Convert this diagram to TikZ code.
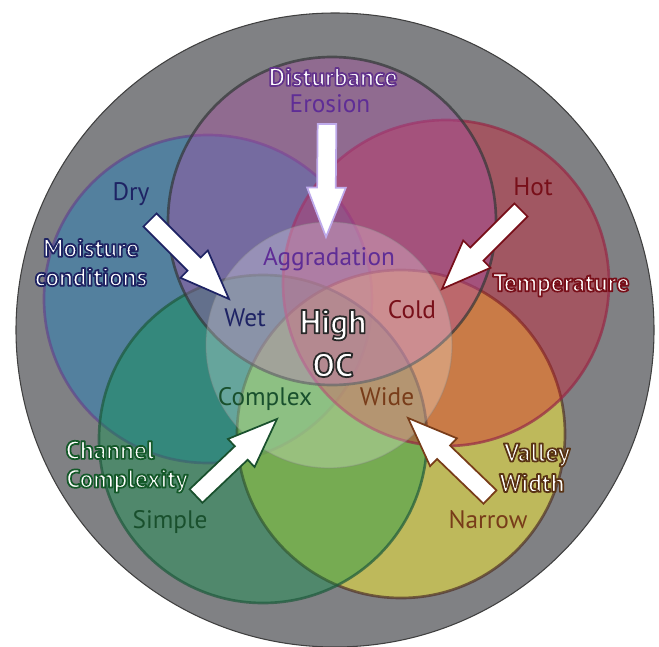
\documentclass[tikz,border=0pt]{standalone}
\usepackage{fontspec}
\setmainfont{PT Sans}
\usetikzlibrary{calc}

\definecolor{ringgrey}{RGB}{128,129,132}
\definecolor{moistfill}{RGB}{30,127,190}
\definecolor{disturbfill}{RGB}{170,76,164}
\definecolor{tempfill}{RGB}{222,15,38}
\definecolor{chanfill}{RGB}{2,150,69}
\definecolor{valleyfill}{RGB}{252,241,52}
\definecolor{navyink}{RGB}{30,35,100}
\definecolor{purpleink}{RGB}{95,45,150}
\definecolor{redink}{RGB}{120,15,25}
\definecolor{greenink}{RGB}{25,80,45}
\definecolor{brownink}{RGB}{120,60,25}

\tikzset{
  venn/.style={fill opacity=#1, draw opacity=0.7, line width=2pt},
  lbl/.style={font=\fontsize{19}{21}\selectfont, inner sep=0pt},
  rimlbl/.style={font=\fontsize{19}{21}\selectfont\bfseries, inner sep=0pt, text=white},
  biglbl/.style={font=\fontsize{25}{27}\selectfont\bfseries, inner sep=0pt, text=white},
  arrowbox/.style={fill=white, line width=1.3pt, line join=miter},
}

% white text with a coloured rim (stroked glyphs)
\newcommand\rimtext[2]{%
  \special{pdf:literal direct 2 Tr 1.3 w 1 j #1 RG}#2\special{pdf:literal direct 0 Tr}}

% block arrow from #2 (tail) to #3 (tip)
\newcommand\blockarrow[3]{%
  \coordinate (#2h) at ($(#3)!37pt!(#2)$);
  \draw[arrowbox, draw=#1] ($(#2)!7pt!90:(#3)$) -- ($(#2h)!7pt!90:(#3)$)
    -- ($(#2h)!14.5pt!90:(#3)$) -- (#3) -- ($(#2h)!14.5pt!-90:(#3)$)
    -- ($(#2h)!7pt!-90:(#3)$) -- ($(#2)!7pt!-90:(#3)$) -- cycle;}

\begin{document}
\begin{tikzpicture}[x=0.75pt, y=-0.75pt]
    \useasboundingbox (0,0) rectangle (659,646);

    % outer ring
    \filldraw[fill=ringgrey, draw=black!75, line width=0.8pt] (335,330) ellipse [x radius=319, y radius=317];

    % the five factors
    \draw[venn=0.45, fill=moistfill, draw={rgb,255:red,100;green,70;blue,140}] (208,299) circle [radius=164];
    \draw[venn=0.5, fill=valleyfill, draw={rgb,255:red,80;green,50;blue,40}] (401,434) circle [radius=164];
    \draw[venn=0.38, fill=chanfill, draw={rgb,255:red,30;green,90;blue,60}] (263,439) circle [radius=164];
    \draw[venn=0.36, fill=tempfill, draw={rgb,255:red,150;green,40;blue,70}] (446,283) circle [radius=163];
    \draw[venn=0.4, fill=disturbfill, draw={rgb,255:red,50;green,55;blue,55}] (332,221) circle [radius=164];

    % centre
    \draw[fill=white, fill opacity=0.25, draw=black!50, draw opacity=0.3, line width=1pt] (329,345) circle [radius=123];

    % labels
    \node[rimlbl] (disturbance) at (333,77) {\rimtext{0.39 0.2 0.55}{Disturbance}};
    \node[lbl, text=purpleink] (erosion) at (330,104) {Erosion};
    \node[lbl, text=purpleink] (aggradation) at (329,259) {Aggradation};

    \node[lbl, text=navyink] (dry) at (131,194) {Dry};
    \node[rimlbl] (moisture) at (91,248) {\rimtext{0.12 0.14 0.39}{Moisture}};
    \node[rimlbl] (conditions) at (91,277) {\rimtext{0.12 0.14 0.39}{conditions}};
    \node[lbl, text=navyink] (wet) at (245,318) {Wet};

    \node[lbl, text=redink] (hot) at (533,187) {Hot};
    \node[rimlbl] (temperature) at (561,285) {\rimtext{0.47 0.06 0.1}{Temperature}};
    \node[lbl, text=redink] (cold) at (412,310) {Cold};

    \node[lbl, text=greenink] (complex) at (265,399) {Complex};
    \node[rimlbl] (channel) at (110,450) {\rimtext{0.08 0.35 0.16}{Channel}};
    \node[rimlbl] (complexity) at (127,481) {\rimtext{0.08 0.35 0.16}{Complexity}};
    \node[lbl, text=greenink] (simple) at (170,522) {Simple};

    \node[lbl, text=brownink] (wide) at (387,397) {Wide};
    \node[rimlbl] (valley) at (537,455) {\rimtext{0.35 0.2 0.08}{Valley}};
    \node[rimlbl] (width) at (532,483) {\rimtext{0.35 0.2 0.08}{Width}};
    \node[lbl, text=brownink] (narrow) at (488,520) {Narrow};

    \node[biglbl] (high) at (333,325) {\rimtext{0.16 0.16 0.16}{High}};
    \node[biglbl] (oc) at (333,365) {\rimtext{0.16 0.16 0.16}{OC}};

    % arrows
    \coordinate (ero-tail) at (327,124);
    \coordinate (agg-tip) at (326,237);
    \coordinate (dry-tail) at (150,220);
    \coordinate (wet-tip) at (229,299);
    \coordinate (hot-tail) at (521,210);
    \coordinate (cold-tip) at (442,289);
    \coordinate (simple-tail) at (196,496);
    \coordinate (complex-tip) at (277,419);
    \coordinate (narrow-tail) at (490,497);
    \coordinate (wide-tip) at (408,418);

    \blockarrow{{rgb,255:red,190;green,170;blue,235}}{ero-tail}{agg-tip}
    \blockarrow{navyink}{dry-tail}{wet-tip}
    \blockarrow{redink}{hot-tail}{cold-tip}
    \blockarrow{greenink}{simple-tail}{complex-tip}
    \blockarrow{brownink}{narrow-tail}{wide-tip}
\end{tikzpicture}
\end{document}
